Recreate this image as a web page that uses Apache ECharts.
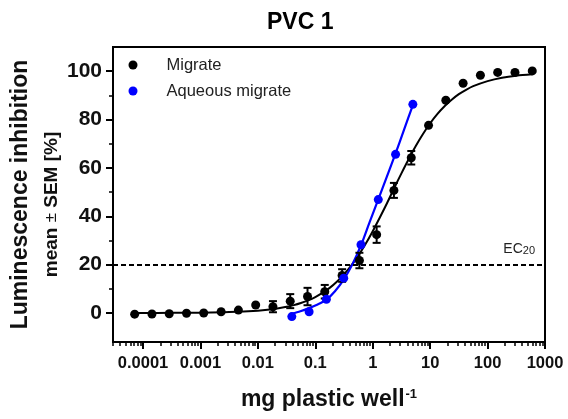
<!DOCTYPE html>
<html><head><meta charset="utf-8">
<script src="https://cdn.jsdelivr.net/npm/echarts@6/dist/echarts.min.js"></script>
<style>html,body{margin:0;padding:0;background:#fff}#c{width:568px;height:419px}</style>
</head><body><div id="c"></div>
<script>
// ---- data ----
const titleText = 'PVC 1';
const xTickValues = [0.0001, 0.001, 0.01, 0.1, 1, 10, 100, 1000];
const xTickLabels = ['0.0001', '0.001', '0.01', '0.1', '1', '10', '100', '1000'];
const yTickLabels = [0, 20, 40, 60, 80, 100];
const yMinorTicks = [10, 30, 50, 70, 90];
const xMin = 0.00003, xMax = 1000;
const yMin = -12, yMax = 110;
const ecLevel = 20;

const migrateDose = [0.0000715, 0.000143, 0.000286, 0.000572, 0.00114, 0.00229, 0.00458, 0.00916,
  0.0183, 0.0366, 0.0732, 0.146, 0.293, 0.586, 1.17, 2.34, 4.69, 9.38, 18.75, 37.5, 75, 150, 300, 600];
const migrateMean = [-0.5, -0.4, -0.3, -0.1, 0, 0.5, 1.2, 3.3, 2.6, 4.9, 6.8, 8.8, 15.5, 21.7,
  32.4, 50.7, 64.2, 77.6, 88.0, 95.0, 98.3, 99.5, 99.5, 100.1];
const migrateSem = [0, 0, 0, 0, 0, 0, 0, 0, 2.3, 2.9, 3.6, 2.8, 2.6, 3.2, 3.4, 3.1, 2.8, 0, 0, 0, 0, 0, 0, 0];

const aqueousDose = [0.039, 0.078, 0.156, 0.3125, 0.625, 1.25, 2.5, 5];
const aqueousMean = [-1.5, 0.5, 5.7, 14.4, 28.2, 46.9, 65.6, 86.3];

const migrateFitDose = [0.0000715, 0.0001, 0.000316, 0.001, 0.00316, 0.01, 0.0178, 0.0316, 0.0422, 0.0562,
  0.075, 0.1, 0.133, 0.178, 0.237, 0.316, 0.422, 0.562, 0.75, 1, 1.33, 1.78, 2.37, 3.16, 4.22, 5.62, 7.5,
  10, 13.3, 17.8, 23.7, 31.6, 42.2, 56.2, 100, 178, 316, 600];
const migrateFitValue = [0.01, 0.02, 0.05, 0.13, 0.36, 0.97, 1.57, 2.56, 3.25, 4.13, 5.22, 6.59, 8.29,
  10.37, 12.92, 15.95, 19.55, 23.75, 28.5, 33.8, 39.5, 45.5, 51.7, 57.75, 63.6, 69.05, 74.0, 78.45,
  82.25, 85.5, 88.2, 90.5, 92.3, 93.8, 95.9, 97.3, 98.15, 98.7];

const aqueousFitDose = [0.039, 0.055, 0.078, 0.11, 0.156, 0.22, 0.3125, 0.44, 0.625, 0.88, 1.25, 1.77, 2.5, 3.54, 5.0];
const aqueousFitValue = [-0.3, 0.7, 2.0, 3.5, 5.5, 9.0, 13.8, 20.0, 28.0, 37.5, 47.0, 56.5, 66.0, 76.0, 86.0];

// ---- chart ----
const lg = v => Math.log10(v);
const minorX = [];
for (let e = -5; e < 3; e++) for (let k = 2; k <= 9; k++) {
  const v = k * Math.pow(10, e);
  if (v >= xMin && v <= xMax) minorX.push(lg(v));
}
const labelMap = {};
xTickValues.forEach((v, i) => { labelMap[lg(v).toFixed(3)] = xTickLabels[i]; });

const FONT = 'Liberation Sans, Arial, sans-serif';
const chart = echarts.init(document.getElementById('c'), null, { renderer: 'canvas' });
const axisBase = { type: 'value', min: lg(xMin), max: lg(xMax), splitLine: { show: false } };

chart.setOption({
  animation: false,
  backgroundColor: '#fff',
  textStyle: { fontFamily: FONT },
  grid: { left: 113, right: 23, top: 47, bottom: 77, show: true, borderColor: '#000', borderWidth: 2,
    containLabel: false, outerBoundsMode: 'none' },
  graphic: [{
    type: 'text', left: 302 - 35, top: 11,
    style: { text: titleText, font: 'bold 23px ' + FONT, fill: '#000' }
  }],
  legend: {
    orient: 'vertical', left: 128.5, top: 55, padding: 0, itemGap: 6,
    itemWidth: 9, itemHeight: 9,
    textStyle: { fontSize: 16.5, color: '#222', lineHeight: 20, padding: [0, 0, 0, 24] },
    data: [{ name: 'Migrate', icon: 'circle', itemStyle: { color: '#000', opacity: 1 } },
           { name: 'Aqueous migrate', icon: 'circle', itemStyle: { color: '#0000ff', opacity: 1 } }]
  },
  xAxis: [
    Object.assign({}, axisBase, {
      position: 'bottom',
      name: '{a|mg plastic well}{s|-1}', nameLocation: 'middle', nameGap: 46,
      nameTextStyle: { rich: { a: { fontSize: 23, fontWeight: 'bold', color: '#111', fontFamily: FONT },
        s: { fontSize: 13, fontWeight: 'bold', color: '#111', verticalAlign: 'top', fontFamily: FONT, padding: [0, 0, 10, 1] } } },
      axisLine: { show: true, onZero: false, lineStyle: { color: '#000', width: 2 } },
      axisTick: { show: true, inside: false, length: 7, lineStyle: { color: '#000', width: 2 }, customValues: xTickValues.map(lg) },
      axisLabel: { show: true, margin: 13, fontSize: 16.5, fontWeight: 'bold', color: '#111',
        customValues: xTickValues.map(lg), formatter: v => labelMap[v.toFixed(3)] || '' }
    }),
    Object.assign({}, axisBase, {
      position: 'bottom',
      axisLine: { show: false, onZero: false },
      axisTick: { show: true, length: 4, lineStyle: { color: '#000', width: 1.5 }, customValues: minorX },
      axisLabel: { show: false }
    })
  ],
  yAxis: [
    {
      type: 'value', min: yMin, max: yMax, position: 'left', splitLine: { show: false },
      name: '{a|Luminescence inhibition}\n{b|mean }{n|±}{c| SEM [%]}', nameLocation: 'middle', nameRotate: 90,
      nameGap: 46, nameMoveOverlap: false,
      nameTextStyle: { lineHeight: 31, rich: {
        a: { fontSize: 23, fontWeight: 'bold', color: '#111', fontFamily: FONT, lineHeight: 31 },
        b: { fontSize: 19, fontWeight: 'bold', color: '#111', fontFamily: FONT, lineHeight: 31 },
        c: { fontSize: 19, fontWeight: 'bold', color: '#111', fontFamily: FONT, lineHeight: 31, padding: [0, 20, 0, 0] },
        n: { fontSize: 17, fontWeight: 'normal', color: '#111', fontFamily: FONT, lineHeight: 31 } } },
      axisLine: { show: true, onZero: false, lineStyle: { color: '#000', width: 2 } },
      axisTick: { show: true, length: 7, lineStyle: { color: '#000', width: 2 }, customValues: yTickLabels },
      axisLabel: { show: true, margin: 11, fontSize: 21, fontWeight: 'bold', color: '#111', customValues: yTickLabels }
    },
    {
      type: 'value', min: yMin, max: yMax, position: 'left', splitLine: { show: false },
      axisLine: { show: false, onZero: false },
      axisTick: { show: true, length: 4, lineStyle: { color: '#000', width: 1.5 }, customValues: yMinorTicks },
      axisLabel: { show: false }
    }
  ],
  series: [
    {
      name: 'EC line', type: 'line', data: [], silent: true,
      markLine: {
        silent: true, symbol: 'none', animation: false,
        lineStyle: { color: '#000', width: 2, type: [5, 3] },
        label: { show: true, position: 'insideEndTop', distance: [10, 8], color: '#222',
          formatter: '{e|EC}{s|20}', rich: { e: { fontSize: 14, fontFamily: FONT }, s: { fontSize: 11, fontFamily: FONT, verticalAlign: 'bottom' } } },
        data: [{ yAxis: ecLevel }]
      }
    },
    {
      name: 'Migrate fit', type: 'line', showSymbol: false, smooth: 0.3, z: 3,
      lineStyle: { color: '#000', width: 2 },
      data: migrateFitDose.map((d, i) => [lg(d), migrateFitValue[i]])
    },
    {
      name: 'Aqueous fit', type: 'line', showSymbol: false, smooth: 0.3, z: 3,
      lineStyle: { color: '#0000ff', width: 2.2 },
      data: aqueousFitDose.map((d, i) => [lg(d), aqueousFitValue[i]])
    },
    {
      name: 'Migrate SEM', type: 'custom', z: 4,
      renderItem: (params, api) => {
        const x = api.value(0), m = api.value(1), s = api.value(2);
        const t = api.coord([x, m + s]), b = api.coord([x, m - s]);
        const hw = 4, st = { stroke: '#000', lineWidth: 2 };
        return { type: 'group', children: [
          { type: 'line', shape: { x1: t[0], y1: t[1], x2: b[0], y2: b[1] }, style: st },
          { type: 'line', shape: { x1: t[0] - hw, y1: t[1], x2: t[0] + hw, y2: t[1] }, style: st },
          { type: 'line', shape: { x1: b[0] - hw, y1: b[1], x2: b[0] + hw, y2: b[1] }, style: st }
        ] };
      },
      data: migrateDose.map((d, i) => [lg(d), migrateMean[i], migrateSem[i]]).filter(p => p[2] > 0)
    },
    {
      name: 'Migrate', type: 'scatter', symbol: 'circle', symbolSize: 9, z: 5,
      itemStyle: { color: '#000', opacity: 1 },
      data: migrateDose.map((d, i) => [lg(d), migrateMean[i]])
    },
    {
      name: 'Aqueous migrate', type: 'scatter', symbol: 'circle', symbolSize: 9, z: 5,
      itemStyle: { color: '#0000ff', opacity: 1 },
      data: aqueousDose.map((d, i) => [lg(d), aqueousMean[i]])
    }
  ]
});
</script>
</body></html>
